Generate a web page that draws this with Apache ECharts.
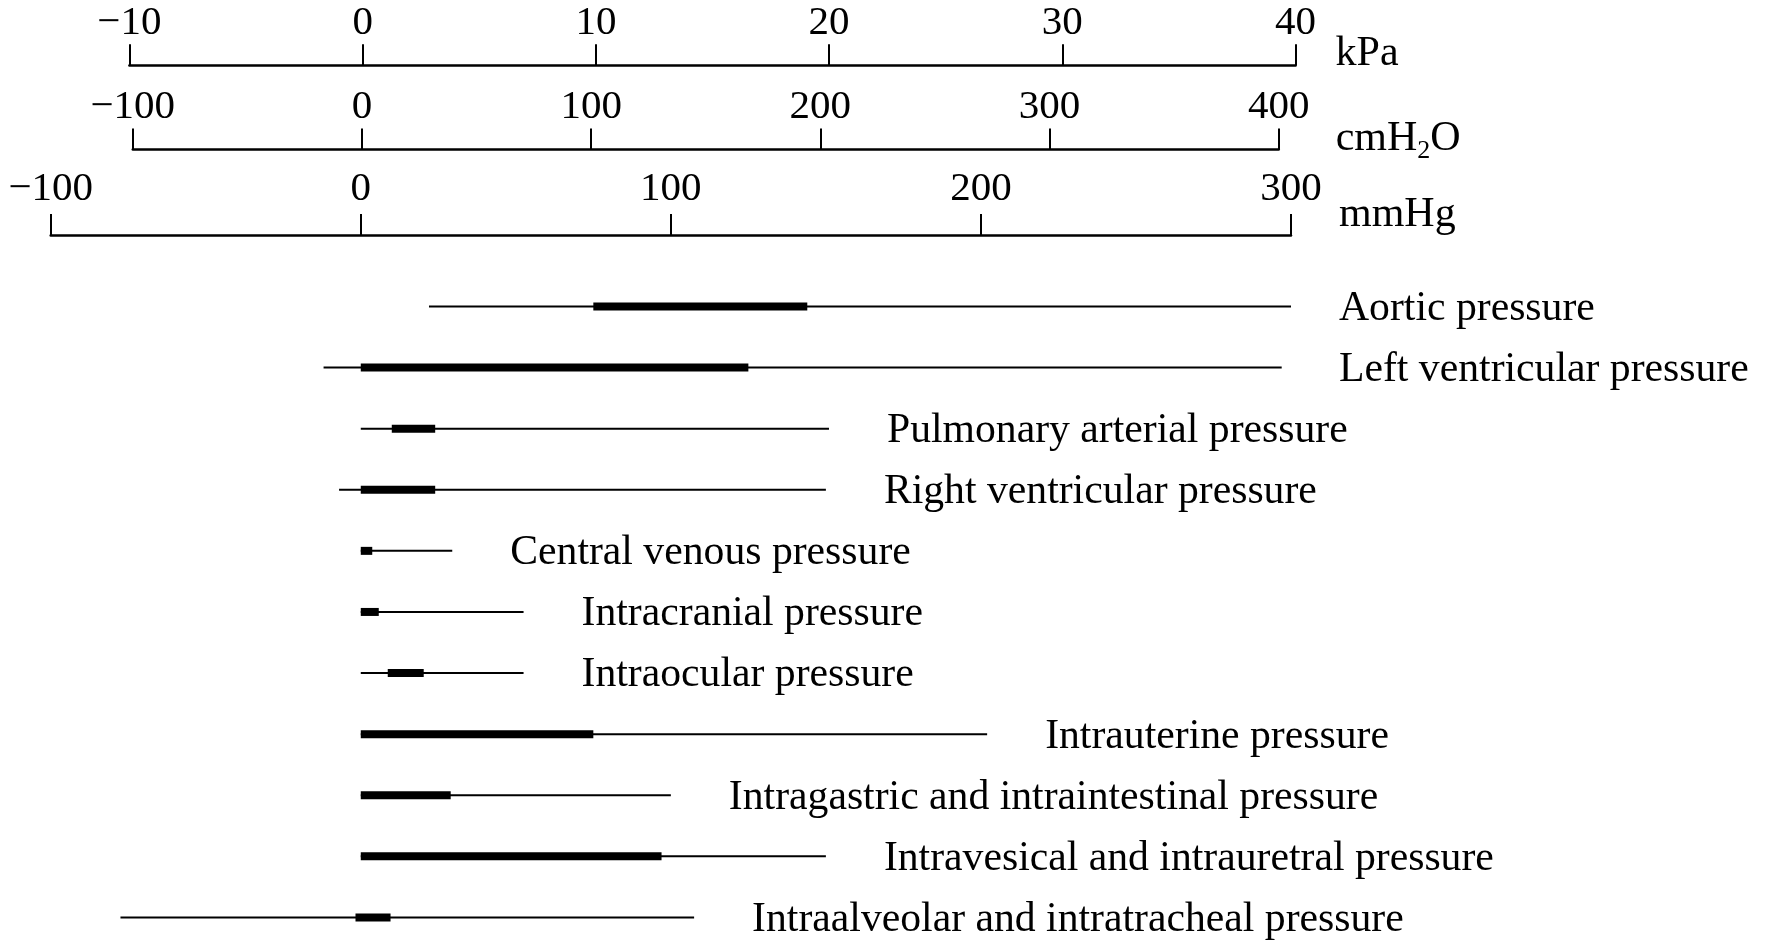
<!DOCTYPE html>
<html>
<head>
<meta charset="utf-8">
<script src="https://cdn.jsdelivr.net/npm/echarts@6/dist/echarts.min.js"></script>
<style>
  html, body { margin: 0; padding: 0; background: #fff; }
  #main { width: 1765px; height: 940px; }
</style>
</head>
<body>
<div id="main"></div>
<script>
// pressure ranges, read in mmHg
var categories = [
    "Aortic pressure",
    "Left ventricular pressure",
    "Pulmonary arterial pressure",
    "Right ventricular pressure",
    "Central venous pressure",
    "Intracranial pressure",
    "Intraocular pressure",
    "Intrauterine pressure",
    "Intragastric and intraintestinal pressure",
    "Intravesical and intrauretral pressure",
    "Intraalveolar and intratracheal pressure"
];
var rangeMin = [22, -12, 0, -7, 0, 0, 0, 0, 0, 0, -77.5];
var rangeMax = [300, 297, 151, 150, 29.5, 52.5, 52.5, 202, 100, 150, 107.5];
var normalMin = [75, 0, 10, 0, 0, 0, 8.7, 0, 0, 0, -1.7];
var normalMax = [144, 125, 24, 24, 3.7, 5.8, 20.3, 75, 29, 97, 9.6];

// scales: [min, max, interval]
var kPaScale = [-10, 40, 10];
var cmH2OScale = [-100, 400, 100];
var mmHgScale = [-100, 300, 100];

var chart = echarts.init(document.getElementById("main"));
var FONT = "'Liberation Serif', 'DejaVu Serif', serif";
var UNIT_GAP = 48;

var rows = categories.map(function (name, i) {
    return [i, rangeMin[i], rangeMax[i], normalMin[i], normalMax[i]];
});

function minus(v) {
    return String(v).replace("-", "\u2212");
}

function scaleAxis(idx, sc, name, gap, namePad, labelMargin, rich) {
    return {
        type: "value",
        gridIndex: idx,
        position: "top",
        min: sc[0],
        max: sc[1],
        interval: sc[2],
        name: name,
        nameLocation: "end",
        nameGap: gap,
        nameTextStyle: {
            fontFamily: FONT,
            fontSize: 42,
            color: "#000",
            align: "left",
            verticalAlign: "bottom",
            padding: [0, 0, namePad, 0],
            rich: rich || {}
        },
        axisLine: { show: true, lineStyle: { color: "#000", width: 2.5 } },
        axisTick: { show: true, inside: false, length: 21, lineStyle: { color: "#000", width: 2 } },
        axisLabel: {
            show: true,
            margin: labelMargin,
            fontFamily: FONT,
            fontSize: 41,
            color: "#000",
            formatter: minus
        },
        splitLine: { show: false }
    };
}

function renderRow(params, api) {
    var i = api.value(0);
    var a = api.coord([api.value(1), i]);
    var b = api.coord([api.value(2), i]);
    var c = api.coord([api.value(3), i]);
    var d = api.coord([api.value(4), i]);
    var y = a[1];
    // labels never run past the unit column
    var unitX = api.coord([mmHgScale[1], i])[0] + UNIT_GAP;
    return {
        type: "group",
        children: [{
            type: "line",
            shape: { x1: a[0], y1: y, x2: b[0], y2: y },
            style: { stroke: "#000", lineWidth: 2 }
        }, {
            type: "rect",
            shape: { x: c[0], y: y - 4, width: d[0] - c[0], height: 8 },
            style: { fill: "#000" }
        }, {
            type: "text",
            style: {
                text: categories[i],
                x: Math.min(b[0] + 58, unitX),
                y: y + 2.5,
                fill: "#000",
                fontFamily: FONT,
                fontSize: 41.7,
                align: "left",
                verticalAlign: "middle"
            }
        }]
    };
}

chart.setOption({
    animation: false,
    backgroundColor: "#fff",
    grid: [
        { left: 129.4, width: 1166.2, top: 64.2, height: 1 },
        { left: 132.8, width: 1145.9, top: 148.6, height: 1 },
        { left: 50.7, width: 1240.3, top: 234.1, height: 1 },
        { left: 50.7, width: 1240.3, top: 306.5, height: 610.9 }
    ],
    xAxis: [
        scaleAxis(0, kPaScale, "kPa", 40, -10, 20),
        scaleAxis(1, cmH2OScale, "cmH{sub|2}O", 57, -10, 21, {
            sub: { fontFamily: FONT, fontSize: 26, color: "#000", verticalAlign: "bottom", padding: [0, 0, -5, 0] }
        }),
        scaleAxis(2, mmHgScale, "mmHg", UNIT_GAP, -1, 24),
        {
            type: "value",
            gridIndex: 3,
            min: mmHgScale[0],
            max: mmHgScale[1],
            show: false
        }
    ],
    yAxis: [0, 1, 2].map(function (g) {
        return { type: "value", gridIndex: g, show: false };
    }).concat([{
        type: "category",
        gridIndex: 3,
        data: categories,
        inverse: true,
        boundaryGap: false,
        show: false
    }]),
    series: [{
        type: "custom",
        xAxisIndex: 3,
        yAxisIndex: 3,
        renderItem: renderRow,
        encode: { x: [1, 2, 3, 4], y: 0 },
        data: rows,
        clip: false
    }]
});
</script>
</body>
</html>
